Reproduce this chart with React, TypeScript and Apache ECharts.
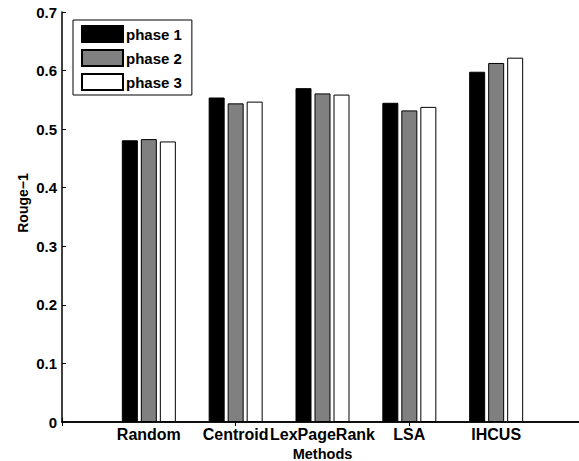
import React, { useEffect, useRef } from "react";
import * as echarts from "echarts";

const categories = ["", "Random", "Centroid", "LexPageRank", "LSA", "IHCUS", ""];
const phase1 = [null, 0.481, 0.554, 0.570, 0.545, 0.598, null];
const phase2 = [null, 0.483, 0.544, 0.561, 0.532, 0.613, null];
const phase3 = [null, 0.479, 0.547, 0.559, 0.538, 0.622, null];
const seriesNames = ["phase 1", "phase 2", "phase 3"];
const seriesColors = ["#000000", "#808080", "#ffffff"];

const FONT = "Liberation Sans, Arial, Helvetica, sans-serif";

export default function App() {
  const ref = useRef<HTMLDivElement>(null);
  useEffect(() => {
    if (!ref.current) return;
    document.body.style.margin = "0";
    document.body.style.overflow = "hidden";
    const chart = echarts.init(ref.current, undefined, { renderer: "svg" });
    const data = [phase1, phase2, phase3];
    const axisLine = { show: true, lineStyle: { color: "#000", width: 1.5 } };
    const option: any = {
      animation: false,
      backgroundColor: "#fff",
      textStyle: { fontFamily: FONT },
      grid: { left: 62, top: 12, right: -4, bottom: 39, containLabel: false, outerBoundsMode: "none" },
      legend: {
        orient: "vertical",
        left: 73,
        top: 20,
        padding: [5, 10, 4, 8],
        itemWidth: 41,
        itemHeight: 16,
        itemGap: 6,
        icon: "rect",
        backgroundColor: "#fff",
        borderColor: "#000",
        borderWidth: 1,
        borderRadius: 0,
        data: seriesNames,
        textStyle: { fontFamily: FONT, fontWeight: "bold", fontSize: 15, color: "#000", padding: [0, 0, 0, -2] },
      },
      xAxis: [
        {
          type: "category",
          position: "bottom",
          data: categories,
          boundaryGap: false,
          axisLine,
          axisTick: { show: true, inside: true, length: 4, lineStyle: { color: "#000" } },
          axisLabel: { fontFamily: FONT, fontWeight: "bold", fontSize: 16, color: "#000", margin: 4, interval: 0 },
          splitLine: { show: false },
          name: "Methods",
          nameLocation: "middle",
          nameGap: 22,
          nameTextStyle: { fontFamily: FONT, fontWeight: "bold", fontSize: 14.5, color: "#000" },
        },
        {
          type: "category",
          position: "top",
          data: categories,
          boundaryGap: false,
          axisLine,
          axisTick: { show: true, inside: true, length: 4, lineStyle: { color: "#000" } },
          axisLabel: { show: false },
          splitLine: { show: false },
        },
      ],
      yAxis: [
        {
          type: "value",
          min: 0,
          max: 0.7,
          interval: 0.1,
          position: "left",
          axisLine,
          axisTick: { show: true, inside: true, length: 4, lineStyle: { color: "#000" } },
          axisLabel: { fontFamily: FONT, fontWeight: "bold", fontSize: 15, color: "#000", margin: 5 },
          splitLine: { show: false },
        },
        {
          type: "value",
          min: 0,
          max: 0.7,
          interval: 0.1,
          position: "right",
          axisLine,
          axisTick: { show: true, inside: true, length: 4, lineStyle: { color: "#000" } },
          axisLabel: { show: false },
          splitLine: { show: false },
        },
      ],
      graphic: [
        {
          type: "text",
          x: 23,
          y: 203,
          rotation: Math.PI / 2,
          style: {
            text: "Rouge\u22121",
            fontFamily: FONT,
            fontWeight: "bold",
            fontSize: 14,
            fill: "#000",
            align: "center",
            verticalAlign: "middle",
          },
        },
      ],
      series: seriesNames.map((name, i) => ({
        name,
        type: "bar",
        xAxisIndex: 0,
        yAxisIndex: 0,
        data: data[i],
        barWidth: 16,
        barGap: "18.75%",
        itemStyle: { color: seriesColors[i], borderColor: "#000", borderWidth: 1 },
      })),
    };
    chart.setOption(option);
    return () => chart.dispose();
  }, []);
  return (
    <div style={{ position: "absolute", left: 0, top: 0, width: 579, height: 461, overflow: "hidden" }}>
      <div ref={ref} style={{ width: 579, height: 461 }} />
    </div>
  );
}
